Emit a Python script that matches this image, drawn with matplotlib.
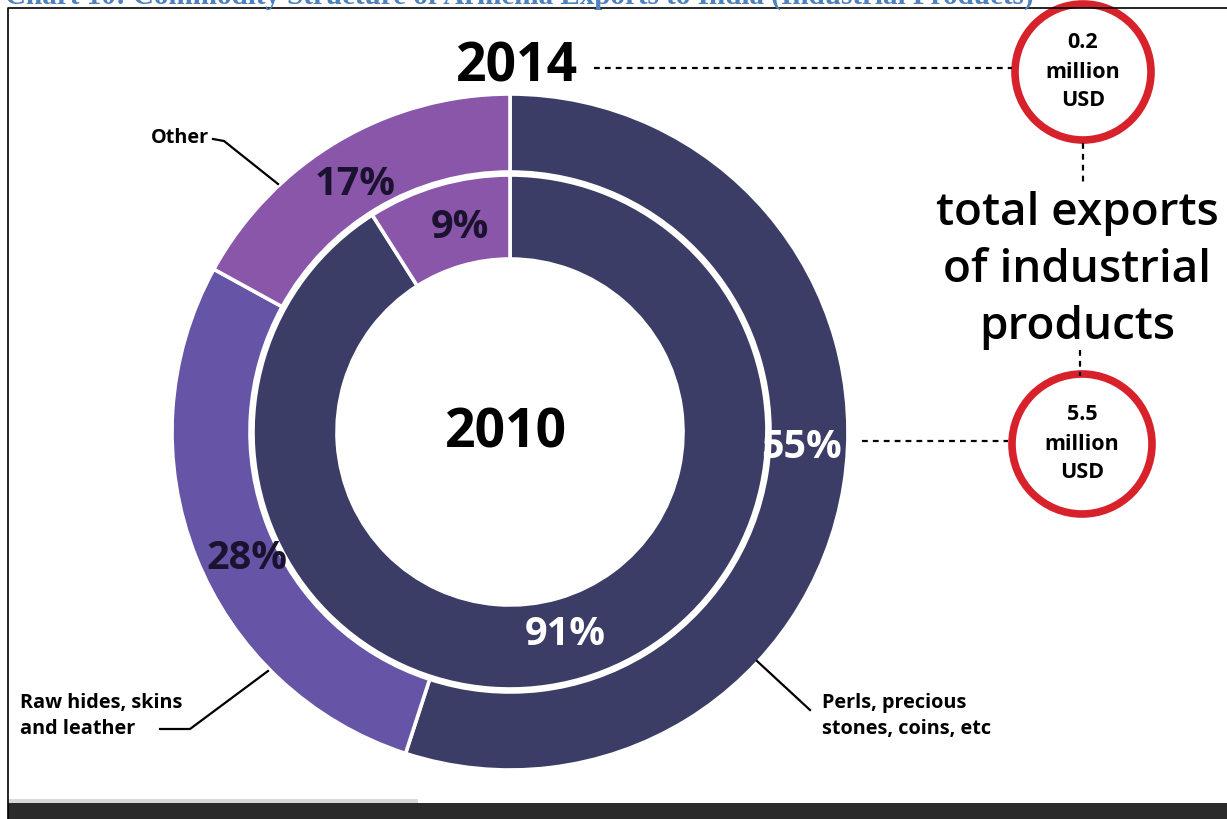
import numpy as np
import matplotlib.pyplot as plt
from matplotlib.patches import Circle, Rectangle

# export shares by commodity group (%)
categories = ["Perls, precious\nstones, coins, etc", "Raw hides, skins\nand leather", "Other"]
share_2014 = [55, 28, 17]
share_2010 = [91, 0, 9]
total_2014 = "0.2"
total_2010 = "5.5"

colors = ["#3b3d66", "#6654a6", "#8956a9"]
pct_colors = ["white", "#1b1230", "#1b1230"]

W, H = 1227, 819
fig = plt.figure(figsize=(W / 100, H / 100), dpi=100)
ax = fig.add_axes([0, 0, 1, 1])

FONT = "Open Sans"


def py(y):
    # image rows run downwards
    return H - y


cx, cy = 510, py(432)

# frame around the chart and the dark strip at the bottom
ax.plot([8, 8, W], [0, py(8), py(8)], color="black", lw=1.2)
ax.add_patch(Rectangle((8, 0), W - 8, 16, color="#2b2b2b", lw=0))
ax.add_patch(Rectangle((8, 16), 410, 4, color="#d9d9d9", lw=0))

ax.text(5, py(4), "Chart 10: Commodity Structure of Armenia Exports to India (Industrial Products)",
        family="Liberation Serif", weight="bold", fontsize=21, color="#4f81bd",
        ha="left", va="baseline")


def ring(values, radius, width, pct_r, nudges):
    vals = [v for v in values if v > 0]
    cols = [c for v, c in zip(values, colors) if v > 0]
    tcol = [c for v, c in zip(values, pct_colors) if v > 0]
    wedges, _ = ax.pie(vals, colors=cols, startangle=90, counterclock=False,
                       radius=radius, center=(cx, cy),
                       wedgeprops=dict(width=width, edgecolor="white", linewidth=2.6))
    for w, v, c, n in zip(wedges, vals, tcol, nudges):
        ang = np.deg2rad((w.theta1 + w.theta2) / 2 + n)
        ax.text(cx + pct_r * np.cos(ang), cy + pct_r * np.sin(ang), f"{v}%",
                family=FONT, weight="bold", fontsize=28.5, color=c,
                ha="center", va="center")


ring(share_2014, 338, 78, 292, [6, 4, 1.5])
ring(share_2010, 257, 84, 210, [-1, -2.5])
ax.set_xlim(0, W)
ax.set_ylim(0, H)
ax.set_aspect("equal")
ax.axis("off")

ax.text(cx - 4, py(433), "2010", family=FONT, weight="bold", fontsize=38.5,
        ha="center", va="center", color="black")
ax.text(cx + 7, py(67), "2014", family=FONT, weight="bold", fontsize=38.5,
        ha="center", va="center", color="black")

# totals in red rings
dash = dict(color="black", lw=1.6, dashes=(2.6, 2.3))
ax.plot([594, 1012], [py(68), py(68)], **dash)
ax.plot([862, 1008], [py(441), py(441)], **dash)
ax.plot([1083, 1083], [py(143), py(186)], **dash)
ax.plot([1080, 1080], [py(350), py(376)], **dash)

for (x0, y0, r), total in zip([(1083, 72, 68), (1082, 444, 70)], [total_2014, total_2010]):
    ax.add_patch(Circle((x0, py(y0)), r, facecolor="white", edgecolor="#d7222b", lw=5.5))
    for k, line in enumerate([total, "million", "USD"]):
        ax.text(x0, py(y0 - 29 + k * 29), line, family=FONT, weight="bold",
                fontsize=15.5, ha="center", va="center", color="black")

for k, line in enumerate(["total exports", "of industrial", "products"]):
    ax.text(1077, py(213 + k * 57), line, family=FONT, weight="semibold",
            fontsize=33, ha="center", va="center", color="black")

# category call-outs
lead = dict(color="black", lw=1.6)
lab = dict(family=FONT, weight="bold", fontsize=14.3, ha="left", va="center")
ax.text(151, py(138), categories[2], **lab)
ax.plot([213, 224, 278], [py(139), py(141), py(184)], **lead)

ax.text(20, py(716), categories[1], linespacing=1.35, **lab)
ax.plot([160, 190, 268], [py(729), py(729), py(671)], **lead)

ax.text(822, py(716), categories[0], linespacing=1.35, **lab)
ax.plot([810, 757], [py(710), py(661)], **lead)

fig.savefig("out.png", dpi=100)
